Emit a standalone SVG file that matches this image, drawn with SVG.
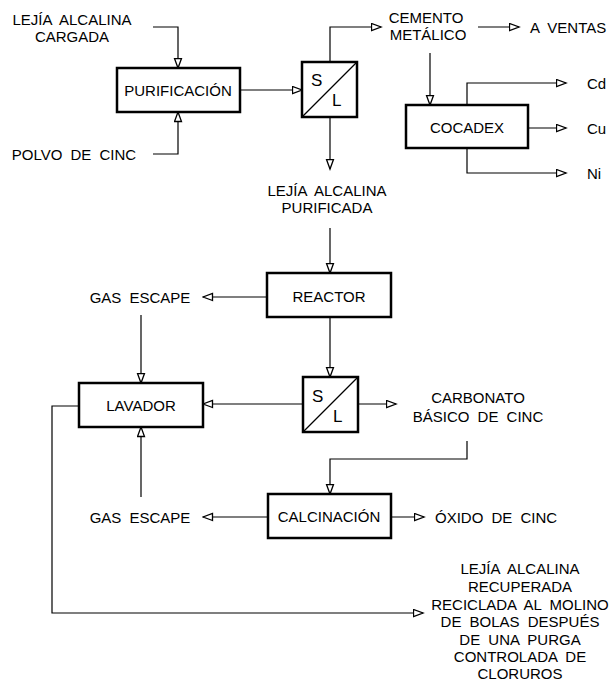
<svg xmlns="http://www.w3.org/2000/svg" width="613" height="681" viewBox="0 0 613 681">
<style>
text{font-family:"Liberation Sans",Arial,sans-serif;font-size:15px;fill:#000;word-spacing:4px}
.c{text-anchor:middle}
.box{fill:#fff;stroke:#000;stroke-width:2.5}
.ln{fill:none;stroke:#000;stroke-width:1.2}
.sl{font-size:17px}
</style>
<defs>
<marker id="ar" markerUnits="userSpaceOnUse" markerWidth="12" markerHeight="10" refX="10.5" refY="4.5" orient="auto">
<path d="M1,1 L10.5,4.5 L1,8 Z" fill="#fff" stroke="#000" stroke-width="1.3"/>
</marker>
</defs>
<rect width="613" height="681" fill="#fff"/>
<g id="connectors">
<path class="ln" marker-end="url(#ar)" d="M153,27 H178 V68"/>
<path class="ln" marker-end="url(#ar)" d="M153,154 H178 V112"/>
<path class="ln" marker-end="url(#ar)" d="M240,90 H302"/>
<path class="ln" marker-end="url(#ar)" d="M330,62 V27 H381"/>
<path class="ln" marker-end="url(#ar)" d="M478,27 H519"/>
<path class="ln" marker-end="url(#ar)" d="M430,53 V105"/>
<path class="ln" marker-end="url(#ar)" d="M467,105 V83 H566"/>
<path class="ln" marker-end="url(#ar)" d="M528,128 H566"/>
<path class="ln" marker-end="url(#ar)" d="M467,148 V173 H566"/>
<path class="ln" marker-end="url(#ar)" d="M330,117 V169"/>
<path class="ln" marker-end="url(#ar)" d="M330,228 V273"/>
<path class="ln" marker-end="url(#ar)" d="M267,297 H203"/>
<path class="ln" marker-end="url(#ar)" d="M330,317 V377"/>
<path class="ln" marker-end="url(#ar)" d="M141,315 V383"/>
<path class="ln" marker-end="url(#ar)" d="M303,404 H203"/>
<path class="ln" marker-end="url(#ar)" d="M358,404 H396"/>
<path class="ln" marker-end="url(#ar)" d="M467,441 V459 H330 V494"/>
<path class="ln" marker-end="url(#ar)" d="M268,517 H203"/>
<path class="ln" marker-end="url(#ar)" d="M391,517 H424"/>
<path class="ln" marker-end="url(#ar)" d="M141,497 V427"/>
<path class="ln" marker-end="url(#ar)" d="M79,406 H52 V613 H423"/>
</g>
<g id="purificacion">
<rect class="box" x="117" y="68" width="123" height="44"/>
<text class="c" x="178" y="96">PURIFICACIÓN</text>
</g>
<g id="sl1">
<rect class="box" x="302" y="62" width="55" height="55"/>
<line class="ln" x1="302" y1="117" x2="357" y2="62"/>
<text class="sl" x="311" y="86">S</text>
<text class="sl" x="332" y="106">L</text>
</g>
<g id="cocadex">
<rect class="box" x="406" y="105" width="122" height="43"/>
<text class="c" x="467" y="133">COCADEX</text>
</g>
<g id="reactor">
<rect class="box" x="267" y="273" width="124" height="44"/>
<text class="c" x="329" y="302">REACTOR</text>
</g>
<g id="sl2">
<rect class="box" x="303" y="377" width="55" height="55"/>
<line class="ln" x1="303" y1="432" x2="358" y2="377"/>
<text class="sl" x="312" y="402">S</text>
<text class="sl" x="333" y="422">L</text>
</g>
<g id="lavador">
<rect class="box" x="79" y="383" width="124" height="44"/>
<text class="c" x="141" y="411">LAVADOR</text>
</g>
<g id="calcinacion">
<rect class="box" x="268" y="494" width="123" height="44"/>
<text class="c" x="329" y="522">CALCINACIÓN</text>
</g>
<g id="labels">
<text class="c" x="72" y="25">LEJÍA ALCALINA</text>
<text class="c" x="72" y="42">CARGADA</text>
<text class="c" x="74" y="160">POLVO DE CINC</text>
<text class="c" x="426" y="23">CEMENTO</text>
<text class="c" x="428" y="40">METÁLICO</text>
<text x="530" y="33">A VENTAS</text>
<text x="587" y="89">Cd</text>
<text x="587" y="134">Cu</text>
<text x="587" y="179">Ni</text>
<text class="c" x="327" y="196">LEJÍA ALCALINA</text>
<text class="c" x="327" y="213">PURIFICADA</text>
<text class="c" x="140" y="303">GAS ESCAPE</text>
<text class="c" x="478" y="403">CARBONATO</text>
<text class="c" x="478" y="422">BÁSICO DE CINC</text>
<text class="c" x="140" y="523">GAS ESCAPE</text>
<text x="435" y="523">ÓXIDO DE CINC</text>
<text class="c" x="520" y="574">LEJÍA ALCALINA</text>
<text class="c" x="520" y="592">RECUPERADA</text>
<text class="c" x="520" y="610">RECICLADA AL MOLINO</text>
<text class="c" x="520" y="627">DE BOLAS DESPUÉS</text>
<text class="c" x="520" y="645">DE UNA PURGA</text>
<text class="c" x="520" y="662">CONTROLADA DE</text>
<text class="c" x="520" y="679">CLORUROS</text>
</g>
</svg>
